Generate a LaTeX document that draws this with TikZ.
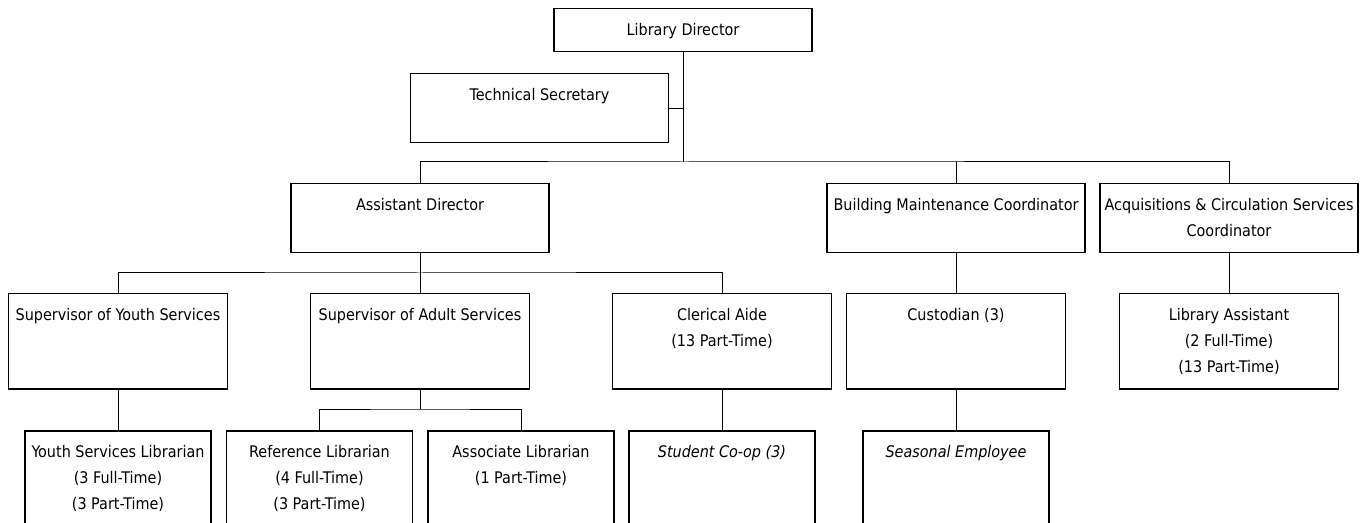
\documentclass[tikz,border=0pt]{standalone}
\usepackage{fontspec}
\setmainfont{DejaVu Sans Condensed}
\begin{document}
\begin{tikzpicture}[x=.5pt, y=-.5pt, font=\fontsize{8}{13}\selectfont,
  post/.style={draw, line width=.75pt, anchor=north, inner sep=0pt, minimum height=#1},
  wide/.style={minimum width=129pt},
  mid/.style={minimum width=109.5pt},
  narrow/.style={minimum width=93pt},
  title/.style={anchor=north, align=center, inner sep=0pt, yshift=-7.5pt},
  link/.style={line width=.5pt}]
\useasboundingbox (0,0) rectangle (1368,523);

% top
\node[post=21.5pt, wide, label={[title]north:Library Director}] (ld) at (683,8) {};
\node[post=34.5pt, wide, label={[title]north:Technical Secretary}] (ts) at (539.5,73) {};

% coordinators
\node[post=34.5pt, wide, label={[title]north:Assistant Director}] (ad) at (420,183) {};
\node[post=34.5pt, wide, label={[title]north:Building Maintenance Coordinator}] (bmc) at (956,183) {};
\node[post=34.5pt, wide, label={[title]north:Acquisitions \& Circulation Services\\Coordinator}] (acq) at (1229,183) {};

% supervisors
\node[post=47.5pt, mid, label={[title]north:Supervisor of Youth Services}] (sys) at (118,293) {};
\node[post=47.5pt, mid, label={[title]north:Supervisor of Adult Services}] (sas) at (420,293) {};
\node[post=47.5pt, mid, label={[title]north:Clerical Aide\\(13 Part-Time)}] (ca) at (722,293) {};
\node[post=47.5pt, mid, label={[title]north:Custodian (3)}] (cust) at (956,293) {};
\node[post=47.5pt, mid, label={[title]north:Library Assistant\\(2 Full-Time)\\(13 Part-Time)}] (la) at (1229,293) {};

% staff
\node[post=55pt, narrow, label={[title]north:Youth Services Librarian\\(3 Full-Time)\\(3 Part-Time)}] (ysl) at (118,430) {};
\node[post=55pt, narrow, label={[title]north:Reference Librarian\\(4 Full-Time)\\(3 Part-Time)}] (rl) at (319.5,430) {};
\node[post=55pt, narrow, label={[title]north:Associate Librarian\\(1 Part-Time)}] (al) at (521,430) {};
\node[post=55pt, narrow, label={[title]north:\itshape Student Co-op (3)}] (sc) at (722,430) {};
\node[post=55pt, narrow, label={[title]north:\itshape Seasonal Employee}] (se) at (956,430) {};

% lines
\coordinate (j1) at (683,162);
\coordinate (j2) at (420,273);
\coordinate (j3) at (420,409);
\draw[link] (ld) -- (j1);
\draw[link] (ts.east) -- (ts.east -| j1);
\draw[link] (ad.north) |- (j1) -| (acq.north);
\draw[link] (bmc.north) -- (bmc.north |- j1);
\draw[link] (ad) -- (j2);
\draw[link] (sys.north) |- (j2) -| (ca.north);
\draw[link] (j2) -- (sas.north);
\draw[link] (sas) -- (j3);
\draw[link] (rl.north) |- (j3) -| (al.north);
\draw[link] (sys) -- (ysl);
\draw[link] (ca) -- (sc);
\draw[link] (bmc) -- (cust);
\draw[link] (cust) -- (se);
\draw[link] (acq) -- (la);
\end{tikzpicture}
\end{document}
